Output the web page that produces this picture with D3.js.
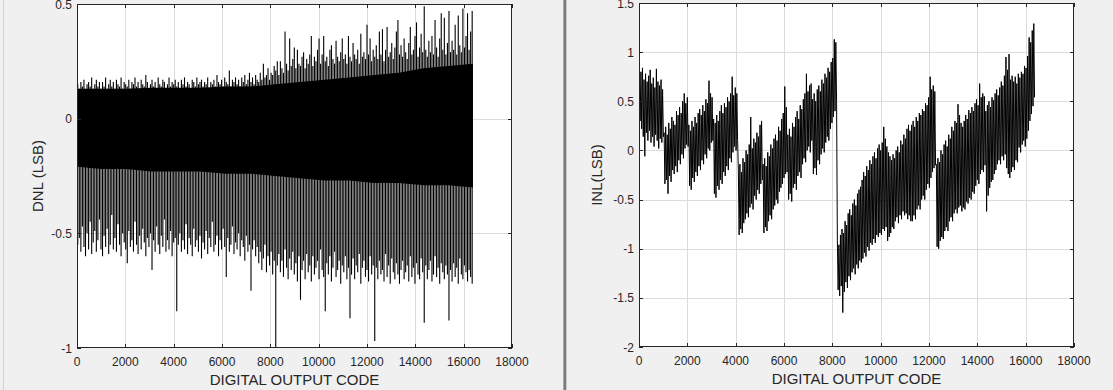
<!DOCTYPE html>
<html>
<head>
<meta charset="utf-8">
<script src="https://cdn.jsdelivr.net/npm/d3@7"></script>
<style>
  html, body { margin: 0; padding: 0; background: #f0f0f0; }
  svg { display: block; }
</style>
</head>
<body>
<svg id="chart" width="1113" height="390"></svg>
<script>
/* ============================================================
   DATA
============================================================ */
const xTicks = [0, 2000, 4000, 6000, 8000, 10000, 12000, 14000, 16000, 18000];
const dnlYTicks = [-1, -0.5, 0, 0.5];
const inlYTicks = [-2, -1.5, -1, -0.5, 0, 0.5, 1, 1.5];

// DNL: solid core band, sampled every 1024 codes
const dnlCoreCodes = [0, 1024, 2048, 3072, 4096, 5120, 6144, 7168, 8192, 9216, 10240, 11264, 12288, 13312, 14336, 15360, 16383];
const dnlCoreTop = [0.13, 0.13, 0.13, 0.135, 0.135, 0.135, 0.14, 0.14, 0.15, 0.16, 0.17, 0.18, 0.19, 0.20, 0.22, 0.23, 0.24];
const dnlCoreBottom = [-0.21, -0.22, -0.22, -0.23, -0.23, -0.23, -0.24, -0.24, -0.25, -0.26, -0.27, -0.27, -0.28, -0.28, -0.29, -0.29, -0.30];

// DNL: extremes in each 64-code block (256 blocks)
const dnlBlock = 64;
const dnlUp = [
  0.15,0.13,0.16,0.14,0.17,0.13,0.15,0.16,0.14,0.18,0.13,0.15,0.17,0.14,0.16,0.13,
  0.16,0.14,0.18,0.13,0.15,0.17,0.14,0.16,0.13,0.17,0.15,0.14,0.18,0.13,0.16,0.15,
  0.14,0.17,0.13,0.16,0.15,0.18,0.14,0.16,0.13,0.17,0.15,0.14,0.19,0.16,0.13,0.15,
  0.17,0.14,0.16,0.13,0.18,0.15,0.14,0.17,0.16,0.13,0.15,0.18,0.14,0.16,0.15,0.17,
  0.14,0.16,0.13,0.17,0.15,0.18,0.14,0.16,0.15,0.13,0.17,0.16,0.14,0.18,0.15,0.16,
  0.17,0.14,0.16,0.15,0.18,0.13,0.16,0.15,0.17,0.14,0.19,0.16,0.15,0.17,0.14,0.18,
  0.16,0.15,0.21,0.14,0.17,0.16,0.18,0.15,0.17,0.14,0.18,0.16,0.19,0.15,0.17,0.20,
  0.16,0.18,0.15,0.19,0.17,0.16,0.20,0.17,0.24,0.18,0.19,0.22,0.17,0.20,0.19,0.23,
  0.21,0.25,0.19,0.25,0.22,0.20,0.38,0.24,0.21,0.35,0.23,0.26,0.31,0.22,0.30,0.24,
  0.23,0.27,0.29,0.22,0.26,0.24,0.28,0.36,0.23,0.27,0.25,0.30,0.35,0.24,0.28,0.36,
  0.25,0.27,0.23,0.30,0.32,0.26,0.24,0.34,0.27,0.25,0.29,0.35,0.26,0.28,0.24,0.36,
  0.27,0.25,0.33,0.28,0.26,0.30,0.24,0.37,0.27,0.29,0.26,0.41,0.28,0.35,0.25,0.30,
  0.27,0.32,0.26,0.38,0.28,0.39,0.25,0.30,0.40,0.27,0.29,0.33,0.26,0.31,0.38,0.43,
  0.28,0.32,0.27,0.35,0.29,0.26,0.33,0.40,0.28,0.30,0.36,0.42,0.27,0.31,0.37,0.29,
  0.49,0.30,0.27,0.34,0.29,0.36,0.28,0.43,0.31,0.27,0.35,0.46,0.30,0.44,0.28,0.33,
  0.47,0.29,0.34,0.30,0.41,0.28,0.45,0.32,0.29,0.48,0.31,0.36,0.46,0.30,0.38,0.47
];
const dnlDown = [
  -0.55,-0.52,-0.58,-0.47,-0.56,-0.60,-0.50,-0.57,-0.45,-0.59,-0.54,-0.49,-0.58,-0.53,-0.44,-0.57,
  -0.60,-0.51,-0.56,-0.48,-0.59,-0.55,-0.42,-0.57,-0.52,-0.58,-0.46,-0.55,-0.60,-0.50,-0.54,-0.57,
  -0.63,-0.49,-0.56,-0.53,-0.58,-0.45,-0.55,-0.59,-0.51,-0.57,-0.48,-0.54,-0.60,-0.52,-0.56,-0.50,
  -0.66,-0.53,-0.58,-0.47,-0.55,-0.59,-0.51,-0.56,-0.44,-0.58,-0.53,-0.57,-0.49,-0.60,-0.54,-0.52,
  -0.84,-0.55,-0.50,-0.58,-0.53,-0.57,-0.46,-0.59,-0.52,-0.55,-0.60,-0.48,-0.56,-0.53,-0.58,-0.51,
  -0.61,-0.54,-0.57,-0.49,-0.59,-0.52,-0.56,-0.45,-0.58,-0.55,-0.51,-0.60,-0.53,-0.57,-0.48,-0.56,
  -0.69,-0.52,-0.58,-0.55,-0.47,-0.59,-0.54,-0.57,-0.50,-0.60,-0.53,-0.56,-0.62,-0.51,-0.58,-0.55,
  -0.75,-0.57,-0.53,-0.60,-0.56,-0.63,-0.58,-0.66,-0.61,-0.55,-0.67,-0.60,-0.64,-0.58,-0.68,-0.62,
  -1.00,-0.64,-0.59,-0.67,-0.62,-0.69,-0.57,-0.65,-0.70,-0.61,-0.66,-0.58,-0.68,-0.63,-0.71,-0.60,
  -0.79,-0.66,-0.62,-0.70,-0.59,-0.67,-0.64,-0.71,-0.60,-0.68,-0.65,-0.62,-0.70,-0.57,-0.66,-0.69,
  -0.84,-0.63,-0.68,-0.60,-0.71,-0.65,-0.58,-0.69,-0.66,-0.62,-0.72,-0.64,-0.67,-0.60,-0.70,-0.65,
  -0.87,-0.68,-0.61,-0.70,-0.64,-0.67,-0.59,-0.72,-0.65,-0.62,-0.69,-0.66,-0.71,-0.60,-0.68,-0.64,
  -0.97,-0.65,-0.70,-0.62,-0.68,-0.66,-0.71,-0.59,-0.69,-0.64,-0.72,-0.61,-0.67,-0.70,-0.63,-0.68,
  -0.72,-0.66,-0.62,-0.70,-0.67,-0.64,-0.71,-0.60,-0.69,-0.65,-0.72,-0.63,-0.68,-0.70,-0.61,-0.67,
  -0.89,-0.64,-0.70,-0.66,-0.62,-0.71,-0.68,-0.60,-0.69,-0.65,-0.72,-0.63,-0.67,-0.70,-0.64,-0.68,
  -0.88,-0.66,-0.71,-0.63,-0.69,-0.65,-0.72,-0.61,-0.68,-0.70,-0.64,-0.67,-0.71,-0.66,-0.69,-0.72
];

// INL: high / low in each 64-code block (256 blocks, 16 per 1024-code segment)
const inlBlock = 64;
const inlHigh = [
  0.88,0.80,0.84,0.72,0.78,0.70,0.76,0.82,0.68,0.74,0.64,0.83,0.70,0.66,0.72,0.62,
  0.18,0.24,0.16,0.28,0.22,0.34,0.30,0.26,0.40,0.36,0.44,0.38,0.50,0.58,0.48,0.54,
  0.26,0.20,0.30,0.24,0.34,0.28,0.38,0.42,0.36,0.46,0.40,0.52,0.48,0.71,0.58,0.54,
  0.32,0.28,0.36,0.30,0.40,0.46,0.38,0.48,0.44,0.54,0.50,0.58,0.75,0.56,0.64,0.58,
  -0.20,-0.14,-0.22,-0.08,-0.12,0.00,-0.04,0.06,0.34,0.02,0.12,0.08,0.18,0.14,0.26,0.30,
  -0.14,-0.08,-0.16,-0.02,-0.06,0.06,0.02,0.12,0.16,0.10,0.24,0.20,0.32,0.38,0.65,0.44,
  0.16,0.22,0.14,0.28,0.24,0.34,0.40,0.32,0.46,0.42,0.52,0.58,0.78,0.60,0.66,0.68,
  0.52,0.58,0.50,0.62,0.66,0.60,0.72,0.68,0.78,0.74,0.84,0.80,0.90,0.94,1.13,1.10,
  -0.92,-0.96,-0.86,-0.80,-0.84,-0.72,-0.76,-0.64,-0.60,-0.66,-0.54,-0.50,-0.56,-0.44,-0.40,-0.37,
  -0.30,-0.22,-0.26,-0.16,-0.20,-0.10,-0.14,-0.06,-0.02,-0.08,0.02,0.06,0.00,0.08,0.24,0.12,
  0.04,-0.02,-0.06,-0.10,-0.04,-0.08,0.00,0.04,-0.02,0.10,0.06,0.16,0.12,0.22,0.26,0.20,
  0.26,0.30,0.24,0.34,0.30,0.38,0.36,0.42,0.40,0.48,0.46,0.54,0.75,0.62,0.66,0.60,
  -0.14,-0.08,-0.12,0.00,-0.04,0.06,0.10,0.04,0.16,0.12,0.24,0.20,0.30,0.28,0.47,0.36,
  0.28,0.24,0.30,0.36,0.32,0.41,0.38,0.44,0.40,0.48,0.52,0.46,0.68,0.54,0.58,0.55,
  0.40,0.46,0.50,0.44,0.54,0.51,0.58,0.62,0.56,0.64,0.70,0.66,0.76,0.95,0.82,0.98,
  0.72,0.76,0.70,0.75,0.68,0.78,0.74,0.80,0.78,0.86,0.84,0.96,1.15,1.10,1.22,1.29
];
const inlLow = [
  0.30,0.22,0.14,-0.06,0.18,0.10,0.20,0.08,0.14,0.04,0.16,0.10,0.02,0.12,0.08,0.14,
  -0.34,-0.30,-0.44,-0.26,-0.32,-0.20,-0.24,-0.16,-0.22,-0.10,-0.14,-0.04,-0.08,0.02,0.06,0.04,
  -0.36,-0.40,-0.28,-0.32,-0.22,-0.26,-0.16,-0.20,-0.10,-0.14,-0.04,-0.08,0.02,0.00,0.08,0.10,
  -0.44,-0.48,-0.36,-0.40,-0.30,-0.34,-0.22,-0.26,-0.16,-0.20,-0.08,-0.12,-0.02,0.04,0.00,0.10,
  -0.86,-0.80,-0.84,-0.74,-0.70,-0.64,-0.68,-0.58,-0.54,-0.60,-0.46,-0.50,-0.40,-0.44,-0.34,-0.30,
  -0.84,-0.78,-0.82,-0.72,-0.66,-0.70,-0.60,-0.56,-0.50,-0.54,-0.42,-0.38,-0.34,-0.28,-0.24,-0.22,
  -0.50,-0.44,-0.52,-0.38,-0.34,-0.40,-0.26,-0.22,-0.28,-0.14,-0.08,-0.12,0.00,0.04,-0.02,0.10,
  -0.24,-0.18,-0.25,-0.10,-0.14,-0.04,0.02,-0.02,0.08,0.14,0.10,0.22,0.28,0.34,0.40,0.50,
  -1.42,-1.48,-1.38,-1.65,-1.44,-1.34,-1.40,-1.28,-1.32,-1.24,-1.20,-1.26,-1.16,-1.20,-1.12,-1.14,
  -1.10,-1.04,-1.08,-0.98,-1.02,-0.94,-0.96,-0.90,-0.94,-0.86,-0.88,-0.84,-0.86,-0.80,-0.82,-0.78,
  -0.92,-0.88,-0.84,-0.78,-0.80,-0.72,-0.68,-0.74,-0.66,-0.70,-0.62,-0.66,-0.64,-0.70,-0.66,-0.72,
  -0.72,-0.66,-0.70,-0.60,-0.56,-0.60,-0.50,-0.46,-0.50,-0.40,-0.34,-0.38,-0.28,-0.22,-0.18,-0.15,
  -0.98,-1.00,-0.92,-0.88,-0.90,-0.82,-0.78,-0.82,-0.72,-0.68,-0.72,-0.64,-0.60,-0.64,-0.58,-0.56,
  -0.62,-0.58,-0.60,-0.52,-0.54,-0.48,-0.50,-0.42,-0.44,-0.36,-0.30,-0.34,-0.24,-0.20,-0.22,-0.15,
  -0.62,-0.46,-0.38,-0.32,-0.30,-0.24,-0.20,-0.14,-0.10,-0.14,-0.06,-0.10,-0.04,-0.18,-0.24,-0.28,
  -0.22,-0.17,-0.20,-0.10,-0.12,0.03,-0.02,0.06,0.10,0.04,0.12,0.20,0.30,0.37,0.45,0.54
];

/* ============================================================
   LAYOUT
============================================================ */
const svg = d3.select("#chart");
const FONT = "'Liberation Sans', Arial, Helvetica, sans-serif";
const TXT = "#262626";

svg.append("rect").attr("width", 1113).attr("height", 390).attr("fill", "#f0f0f0");

// figure window borders
svg.append("rect").attr("x", 3).attr("y", 0).attr("width", 1).attr("height", 390).attr("fill", "#d2d2d2");
svg.append("rect").attr("x", 563).attr("y", 0).attr("width", 1).attr("height", 390).attr("fill", "#a8a8a8");
svg.append("rect").attr("x", 564).attr("y", 0).attr("width", 2).attr("height", 390).attr("fill", "#7c7c7c");
svg.append("rect").attr("x", 566).attr("y", 0).attr("width", 1).attr("height", 390).attr("fill", "#cacaca");

const fmt = d => String(d);

function drawAxes(id, x, y, yTicks, yTitle, yTitleX, drawData) {
  const [x0, x1] = x.range();
  const [y0, y1] = y.range(); // y0 bottom, y1 top
  const g = svg.append("g").attr("id", id);

  g.append("rect")
    .attr("x", x0).attr("y", y1)
    .attr("width", x1 - x0).attr("height", y0 - y1)
    .attr("fill", "#fff");

  // grid
  const grid = g.append("g").attr("stroke", "#dcdcdc").attr("stroke-width", 1);
  xTicks.slice(1, -1).forEach(t => {
    grid.append("line").attr("x1", Math.round(x(t)) + 0.5).attr("x2", Math.round(x(t)) + 0.5)
      .attr("y1", y1).attr("y2", y0);
  });
  yTicks.slice(1, -1).forEach(t => {
    grid.append("line").attr("y1", Math.round(y(t)) + 0.5).attr("y2", Math.round(y(t)) + 0.5)
      .attr("x1", x0).attr("x2", x1);
  });

  g.append("clipPath").attr("id", id + "-clip")
    .append("rect").attr("x", x0).attr("y", y1).attr("width", x1 - x0).attr("height", y0 - y1);
  const data = g.append("g").attr("clip-path", `url(#${id}-clip)`);
  drawData(data);

  // box + inward ticks
  const ax = g.append("g").attr("stroke", TXT).attr("stroke-width", 1).attr("fill", "none");
  ax.append("rect").attr("x", x0 + 0.5).attr("y", y1 + 0.5)
    .attr("width", x1 - x0 - 1).attr("height", y0 - y1 - 1);
  const tl = 4;
  xTicks.forEach(t => {
    const xx = Math.round(x(t)) + 0.5;
    ax.append("line").attr("x1", xx).attr("x2", xx).attr("y1", y0).attr("y2", y0 - tl);
    ax.append("line").attr("x1", xx).attr("x2", xx).attr("y1", y1).attr("y2", y1 + tl);
  });
  yTicks.forEach(t => {
    const yy = Math.round(y(t)) + 0.5;
    ax.append("line").attr("y1", yy).attr("y2", yy).attr("x1", x0).attr("x2", x0 + tl);
    ax.append("line").attr("y1", yy).attr("y2", yy).attr("x1", x1).attr("x2", x1 - tl);
  });

  // tick labels
  const lab = g.append("g").attr("font-family", FONT).attr("font-size", 12).attr("fill", TXT);
  xTicks.forEach(t => {
    lab.append("text").attr("x", x(t)).attr("y", y0 + 17.5)
      .attr("text-anchor", "middle").text(fmt(t));
  });
  yTicks.forEach(t => {
    lab.append("text").attr("x", x0 - 5).attr("y", y(t) + 4.5)
      .attr("text-anchor", "end").text(fmt(t));
  });

  // axis titles
  g.append("text")
    .attr("x", (x0 + x1) / 2).attr("y", y0 + 37)
    .attr("text-anchor", "middle")
    .attr("font-family", FONT).attr("font-size", 15).attr("fill", TXT)
    .text("DIGITAL OUTPUT CODE");
  g.append("text")
    .attr("transform", `translate(${yTitleX},${(y0 + y1) / 2}) rotate(-90)`)
    .attr("text-anchor", "middle")
    .attr("font-family", FONT).attr("font-size", 15).attr("fill", TXT)
    .text(yTitle);
}

/* ============================================================
   DNL PLOT
============================================================ */
const xD = d3.scaleLinear().domain([0, 18000]).range([77, 512]);
const yD = d3.scaleLinear().domain([-1, 0.5]).range([348, 4]);

drawAxes("dnl", xD, yD, dnlYTicks, "DNL (LSB)", 43, g => {
  const core = d3.area()
    .x((d, i) => xD(dnlCoreCodes[i]))
    .y0((d, i) => yD(dnlCoreBottom[i]))
    .y1((d, i) => yD(dnlCoreTop[i]));
  g.append("path").datum(dnlCoreCodes).attr("d", core).attr("fill", "#000");

  g.append("g").selectAll("line")
    .data(dnlUp)
    .join("line")
    .attr("x1", (d, i) => xD(i * dnlBlock + dnlBlock / 2))
    .attr("x2", (d, i) => xD(i * dnlBlock + dnlBlock / 2))
    .attr("y1", d => yD(d))
    .attr("y2", (d, i) => yD(dnlDown[i]))
    .attr("stroke", "#000")
    .attr("stroke-width", 1.1);
});

/* ============================================================
   INL PLOT
============================================================ */
const xI = d3.scaleLinear().domain([0, 18000]).range([639, 1074]);
const yI = d3.scaleLinear().domain([-2, 1.5]).range([347, 3]);

drawAxes("inl", xI, yI, inlYTicks, "INL(LSB)", 602, g => {
  // the jagged trace, alternating between block highs and lows
  const pts = [];
  inlHigh.forEach((hi, i) => {
    pts.push([i * inlBlock + inlBlock * 0.25, hi]);
    pts.push([i * inlBlock + inlBlock * 0.75, inlLow[i]]);
  });
  g.append("path")
    .datum(pts)
    .attr("d", d3.line().x(d => xI(d[0])).y(d => yI(d[1])))
    .attr("fill", "none")
    .attr("stroke", "#000")
    .attr("stroke-width", 1)
    .attr("stroke-linejoin", "bevel");
});
</script>
</body>
</html>
